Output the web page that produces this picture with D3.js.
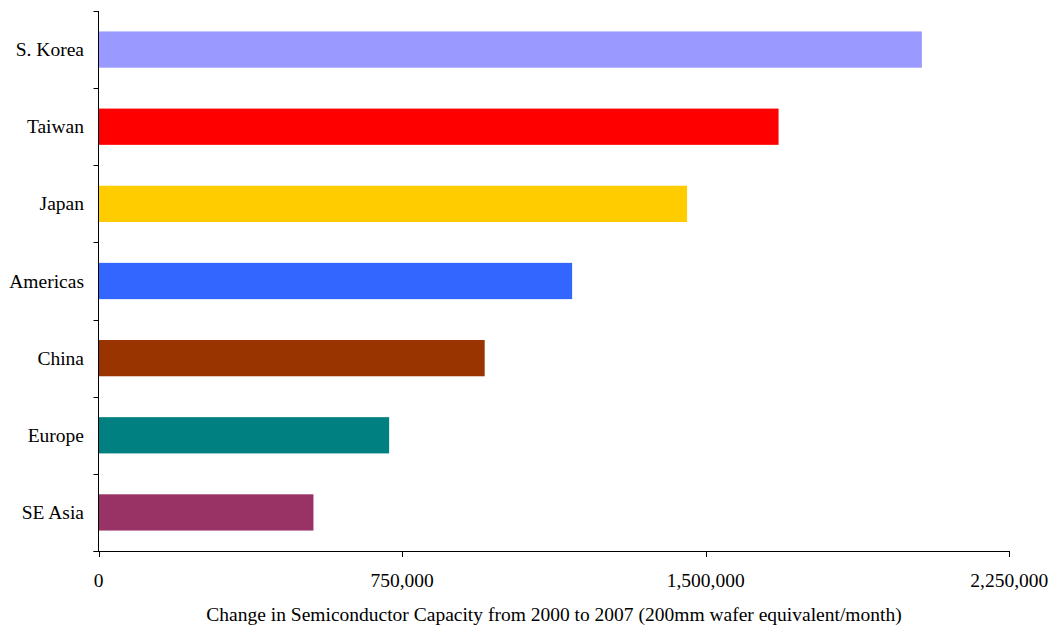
<!DOCTYPE html>
<html><head><meta charset="utf-8">
<script src="https://cdn.jsdelivr.net/npm/d3@7"></script>
<style>body{margin:0;background:#fff}svg{display:block}text{font-family:"Liberation Serif","Times New Roman",serif;fill:#000}</style>
</head><body><svg id="c" width="1052" height="627"></svg>
<script>
const categories = ["S. Korea","Taiwan","Japan","Americas","China","Europe","SE Asia"];
const values = [2034000,1680000,1454000,1170000,954000,718000,531000];
const colors = ["#9999FF","#FF0000","#FFCC00","#3366FF","#993300","#008080","#993366"];
const xTicks = [0,750000,1500000,2250000];
const xTitle = "Change in Semiconductor Capacity from 2000 to 2007 (200mm wafer equivalent/month)";

const svg = d3.select("#c");
const x0 = 98.5, x1 = 1009.3, yTop = 11, yBot = 551;
const fs = 19.5;
const x = d3.scaleLinear().domain([0,2250000]).range([x0,x1]);
const y = d3.scaleBand().domain(categories).range([yTop,yBot]).paddingInner(0.53).paddingOuter(0.265);

svg.selectAll("rect.bar").data(categories).enter().append("rect")
  .attr("x", x(0)).attr("y", d=>y(d))
  .attr("width", (d,i)=>x(values[i])-x(0)).attr("height", y.bandwidth())
  .attr("fill",(d,i)=>colors[i]);

// y axis
const g = svg.append("g").attr("stroke","#000").attr("stroke-width",1);
g.append("line").attr("x1",x0).attr("x2",x0).attr("y1",yTop).attr("y2",yBot);
const step = (yBot-yTop)/categories.length;
d3.range(categories.length+1).forEach(i=>{
  const yy = Math.round(yTop+i*step)+0.5;
  g.append("line").attr("x1",x0-5).attr("x2",x0).attr("y1",yy).attr("y2",yy);
});
// x axis
g.append("line").attr("x1",x0-5).attr("x2",x1).attr("y1",yBot+0.5).attr("y2",yBot+0.5);
xTicks.forEach(t=>{
  const xx = Math.round(x(t))+0.5;
  g.append("line").attr("x1",xx).attr("x2",xx).attr("y1",yBot).attr("y2",yBot+6);
});
svg.selectAll("text.cat").data(categories).enter().append("text")
  .attr("x",84).attr("y",d=>y(d)+y.bandwidth()/2+6.5)
  .attr("text-anchor","end").attr("font-size",fs).text(d=>d);
svg.selectAll("text.xt").data(xTicks).enter().append("text")
  .attr("x",d=>x(d)).attr("y",587).attr("text-anchor","middle").attr("font-size",fs)
  .text(d=>d3.format(",")(d));
svg.append("text").attr("x",554).attr("y",621).attr("text-anchor","middle").attr("font-size",fs).text(xTitle);
</script></body></html>
